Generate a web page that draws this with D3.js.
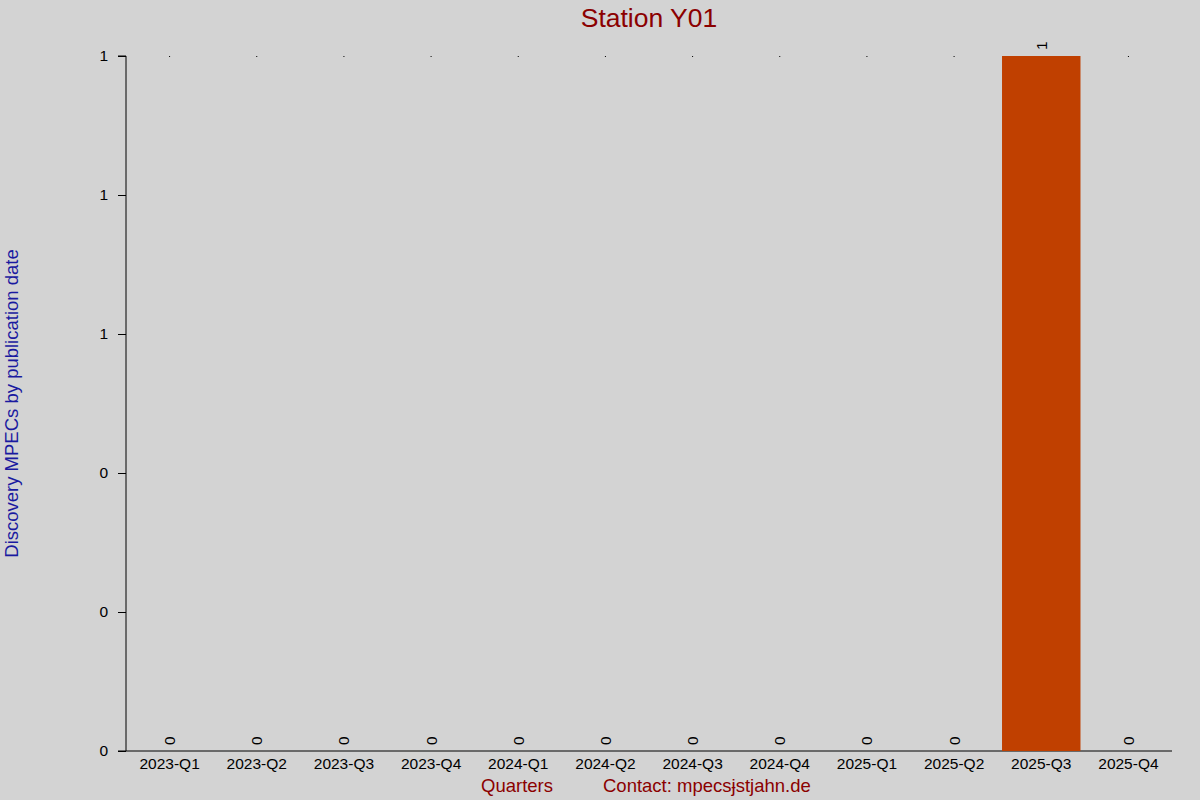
<!DOCTYPE html>
<html>
<head>
<meta charset="utf-8">
<script src="https://cdn.jsdelivr.net/npm/d3@7"></script>
<style>
  body { margin: 0; background: #d3d3d3; }
  text { font-family: "Liberation Sans", Arial, sans-serif; }
</style>
</head>
<body>
<div id="chart"></div>
<script>
// data
const quarters = ['2023-Q1', '2023-Q2', '2023-Q3', '2023-Q4', '2024-Q1', '2024-Q2',
                  '2024-Q3', '2024-Q4', '2025-Q1', '2025-Q2', '2025-Q3', '2025-Q4'];
const discoveries = [0, 0, 0, 0, 0, 0, 0, 0, 0, 0, 1, 0];
const yTicks = [0, 0.2, 0.4, 0.6, 0.8, 1];

drawChart();

function drawChart() {
    const width = 1200;
    const height = 800;
    const margin = {top: 56, right: 28, bottom: 49, left: 126};

    const svg = d3.select('#chart')
        .append('svg')
        .attr('width', width)
        .attr('height', height);

    svg.append('rect')
        .attr('width', width)
        .attr('height', height)
        .attr('fill', '#d3d3d3');

    // scales
    const scaleX = d3.scaleBand()
        .domain(quarters)
        .range([margin.left, width - margin.right])
        .paddingInner(0.1)
        .paddingOuter(0.05);

    const scaleY = d3.scaleLinear()
        .domain([0, d3.max(discoveries)])
        .range([height - margin.bottom, margin.top]);

    // y axis, labels rounded to integers like the original
    const axisY = d3.axisLeft(scaleY)
        .tickValues(yTicks)
        .tickFormat(d3.format('.0f'))
        .tickSize(8)
        .tickPadding(10);
    const gy = svg.append('g')
        .attr('transform', `translate(${margin.left}, 0)`)
        .call(axisY);
    gy.select('.domain').attr('d', `M-8,${scaleY(1)}H0V${scaleY(0)}`);
    gy.selectAll('text').attr('font-size', 15.5).attr('fill', '#000');

    // x axis without ticks
    const axisX = d3.axisBottom(scaleX).tickSize(0).tickPadding(7);
    const gx = svg.append('g')
        .attr('transform', `translate(0, ${height - margin.bottom})`)
        .call(axisX);
    gx.select('.domain').attr('d', `M${margin.left - 8},0H${width - margin.right}`);
    gx.selectAll('text').attr('font-size', 15.5).attr('fill', '#000');

    // bars
    svg.selectAll('.bar')
        .data(discoveries)
        .enter()
        .append('rect')
        .attr('class', 'bar')
        .attr('x', (d, i) => scaleX(quarters[i]))
        .attr('y', d => scaleY(d))
        .attr('width', scaleX.bandwidth())
        .attr('height', d => scaleY(0) - scaleY(d))
        .attr('fill', '#c04000');

    // tiny dots on the top line for empty quarters
    svg.selectAll('.dot')
        .data(quarters.filter((q, i) => discoveries[i] === 0))
        .enter()
        .append('rect')
        .attr('class', 'dot')
        .attr('x', q => scaleX(q) + scaleX.bandwidth() / 2 - 0.5)
        .attr('y', scaleY(d3.max(discoveries)))
        .attr('width', 1)
        .attr('height', 1)
        .attr('fill', '#000');

    // rotated value labels
    svg.selectAll('.value')
        .data(discoveries)
        .enter()
        .append('text')
        .attr('class', 'value')
        .attr('transform', (d, i) => {
            const x = scaleX(quarters[i]) + scaleX.bandwidth() / 2 + 5.5;
            const y = scaleY(d) - 6;
            return `translate(${x}, ${y}) rotate(-90)`;
        })
        .attr('font-size', 15.5)
        .attr('fill', '#000')
        .text(d => d);

    // titles
    svg.append('text')
        .attr('x', (margin.left + width - margin.right) / 2)
        .attr('y', 27)
        .attr('text-anchor', 'middle')
        .attr('font-size', 26.5)
        .attr('fill', '#8b0000')
        .text('Station Y01');

    svg.append('text')
        .attr('transform', `translate(18, ${(margin.top + height - margin.bottom) / 2}) rotate(-90)`)
        .attr('text-anchor', 'middle')
        .attr('font-size', 18.5)
        .attr('fill', '#1a1aa0')
        .text('Discovery MPECs by publication date');

    svg.append('text')
        .attr('x', 517)
        .attr('y', 792)
        .attr('text-anchor', 'middle')
        .attr('font-size', 18.5)
        .attr('fill', '#8b0000')
        .text('Quarters');

    svg.append('text')
        .attr('x', 603)
        .attr('y', 792)
        .attr('font-size', 18.5)
        .attr('fill', '#8b0000')
        .text('Contact: mpecsɉstjahn.de');
}
</script>
</body>
</html>
